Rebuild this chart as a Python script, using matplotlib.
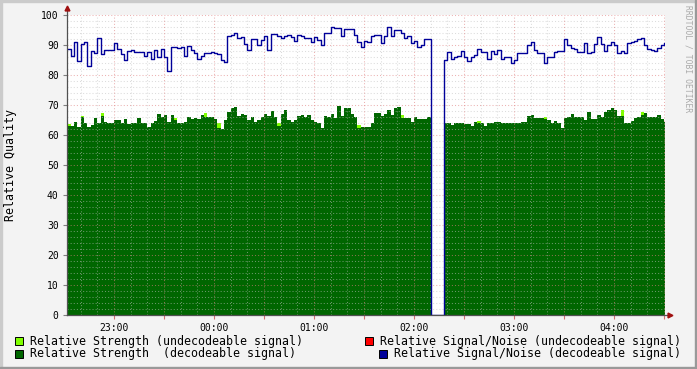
import numpy as np
import matplotlib.pyplot as plt
from matplotlib.lines import Line2D
from matplotlib.patches import Rectangle

plt.rcParams['font.family'] = 'DejaVu Sans Mono'

# time axis: minutes after 22:00, one sample every 2 minutes starting 22:32
t_start = 32
t_step = 2

# relative signal/noise (decodeable), 0 = outage
snr_dec = [
    88.6, 86.5, 91.1, 84.6, 90.5, 91.1, 83, 88, 87.2, 92.2, 87, 88.5, 88.3, 88.3, 90.8,
    88.6, 87, 85, 88.1, 88.3, 87.8, 87.8, 87.8, 86.3, 87.8, 85.2, 88.5, 86, 88.7, 86,
    81.3, 89.4, 89.2, 89, 89.4, 86.5, 89.7, 88.3, 87.2, 85.5, 86.3, 87.4, 87.5, 87.8, 87.2,
    87, 85, 84.4, 93, 93.3, 94, 92.2, 92.8, 90.3, 88.5, 91.9, 91.9, 90, 91.7, 93,
    88.5, 93.6, 93.6, 93, 92.2, 93, 93.3, 92.8, 91.5, 93.5, 93, 92.2, 92.2, 91.1, 92.8,
    91.7, 90, 93.9, 93.9, 95.9, 95.6, 95.6, 93, 95.5, 95.5, 95.2, 93.3, 91, 89.4, 91.5,
    91.1, 93, 93.5, 93.5, 90.8, 93, 95.9, 93, 95, 95, 94, 92.5, 93, 90.8, 91.5,
    89.2, 90, 91.9, 91.9, 0, 0, 0, 0, 85, 87.8, 85.5, 86, 86.5, 88.1, 86,
    84.8, 86, 86.7, 88.6, 87.8, 87.8, 85.5, 87.9, 87, 88.3, 85.5, 85.9, 85.9, 84.1, 85,
    87.2, 87.4, 87.2, 90, 91, 88.5, 87.2, 87.4, 84, 85.9, 85.9, 87.8, 88.1, 88.1, 91.9,
    90, 89, 88.6, 87.8, 87.8, 90.8, 87.2, 87.8, 90.3, 92.8, 90.5, 88.1, 90, 91.1, 90,
    87.2, 88, 87.5, 90.8, 91.1, 91.5, 91.9, 92.5, 90, 88.6, 88.3, 88.1, 89, 90, 90.6,
]

# relative strength (decodeable)
strength_dec = [
    63, 63, 64.4, 62.6, 65.9, 63.9, 62.6, 63.2, 65.6, 63.9, 66.5, 64.5, 63.9, 63.9, 65,
    65, 63.9, 65.2, 63.8, 63.9, 63.9, 65.6, 64, 64, 62.6, 64, 64.8, 67, 66, 66.6,
    64.5, 66.6, 65, 64.1, 63.9, 64.4, 66, 65.5, 65.6, 65.2, 66.8, 65.9, 65.9, 65.9, 65.2,
    62.5, 62, 65, 67.8, 68.9, 69.5, 66.3, 67, 66.6, 65, 65.9, 64.4, 65, 66, 67.1,
    66.5, 68, 66, 63, 67.1, 68.5, 65, 64.4, 65, 66.3, 66.6, 66, 66.6, 65, 64.4,
    64, 62.5, 66.3, 65.9, 67, 65.8, 69.8, 66.3, 68.9, 68.9, 67.1, 65.9, 62.5, 62.8, 62.8,
    62.8, 63.9, 67.3, 67.4, 66.5, 67.1, 68.5, 66.6, 68.9, 69.5, 65.6, 65.6, 65.7, 64.4, 65.9,
    65.2, 65.2, 65.2, 66, 0, 0, 0, 0, 63.9, 63.9, 63.3, 63.9, 63.9, 63.9, 63.6,
    63.6, 63, 64.4, 63.9, 63.9, 63, 63.9, 63.9, 64.5, 64.4, 63.9, 63.9, 63.9, 63.9, 63.9,
    63.9, 64.4, 64.4, 66.3, 66.6, 65.8, 65.6, 65.6, 65.3, 65, 64.1, 64.8, 64.1, 62.2, 65.6,
    65.9, 67, 65.9, 65.9, 65.9, 65, 67.8, 65.2, 65.2, 66.6, 66, 67.8, 68.3, 68.9, 68.5,
    66.3, 66.3, 63.9, 63.9, 64.8, 65.6, 66, 66.6, 67.4, 65.9, 65.9, 65.9, 66.6, 65.2, 64.4,
]

# relative strength (undecodeable) - only shows where it pokes above the decodeable one
undec_idx = [0, 4, 10, 32, 41, 45, 63, 87, 100, 123, 143, 166, 172]
undec_val = [63.8, 66.5, 67.2, 65.8, 67.3, 63.9, 64, 63.3, 66.7, 64.6, 66, 68.3, 67.6]

hour_ticks = [60, 120, 180, 240, 300, 360]
hour_labels = ['23:00', '00:00', '01:00', '02:00', '03:00', '04:00']

W, H = 697, 369
fig = plt.figure(figsize=(W / 100, H / 100), dpi=100, facecolor='#F3F3F3')


def fx(px):
    return px / W


def fy(py):
    return 1 - py / H


ax = fig.add_axes([fx(67), fy(315), fx(665) - fx(67), fy(15) - fy(315)])
ax.set_facecolor('white')

n = len(snr_dec)
edges = t_start + t_step * np.arange(n + 1)
strength_undec = np.zeros(n)
strength_undec[undec_idx] = undec_val

ax.stairs(strength_undec, edges, fill=True, color='#80FF00', zorder=1)
ax.stairs(strength_dec, edges, fill=True, color='#006600', zorder=2)
ax.step(edges, np.append(snr_dec, snr_dec[-1]), where='post', color='#000099',
        lw=1.0, zorder=4)

ax.set_xlim(31.8, 390.6)
ax.set_ylim(0, 100)

# rrdtool style grid, drawn over the data
dots = (0, (1, 2))
minor_x = [m for m in range(40, 391, 10) if m % 30]
major_x = list(range(60, 391, 30))
minor_y = [v for v in range(2, 100, 2) if v % 10]
major_y = list(range(10, 101, 10))
ax.vlines(minor_x, 0, 100, colors='#C0C0C0', linestyles=dots, lw=0.75, alpha=0.55, zorder=3)
ax.hlines(minor_y, 31.8, 390.6, colors='#C0C0C0', linestyles=dots, lw=0.75, alpha=0.55, zorder=3)
ax.vlines(major_x, 0, 100, colors='#E08080', linestyles=dots, lw=0.75, alpha=0.6, zorder=3)
ax.hlines(major_y, 31.8, 390.6, colors='#E08080', linestyles=dots, lw=0.75, alpha=0.6, zorder=3)

for s in ax.spines.values():
    s.set_visible(False)

ax.set_xticks(hour_ticks)
ax.set_xticklabels(hour_labels)
ax.set_xticks(major_x, minor=True)
ax.set_yticks(range(0, 101, 10))
ax.tick_params(axis='x', which='both', length=3, color='#D07070', width=0.8,
               labelsize=7, pad=3)
ax.tick_params(axis='y', length=3, color='#808080', width=0.8, labelsize=7, pad=3)

# axis lines with red arrows
fig.add_artist(Line2D([fx(67), fx(67)], [fy(315), fy(8)], color='#505050', lw=0.9))
fig.add_artist(Line2D([fx(67), fx(670)], [fy(315), fy(315)], color='#505050', lw=0.9))
fig.add_artist(Line2D([fx(67)], [fy(8)], marker='^', color='#A01010', markersize=3.5, lw=0))
fig.add_artist(Line2D([fx(670)], [fy(315)], marker='>', color='#A01010', markersize=3.5, lw=0))

fig.text(fx(11), fy(165), 'Relative Quality', rotation=90, ha='center', va='center',
         fontsize=8.4)
fig.text(fx(688), fy(5), 'RRDTOOL / TOBI OETIKER', rotation=270, ha='center', va='top',
         fontsize=5.8, color='#AAAAAA')

# legend
legend = [
    (15, 341, '#80FF00', 'Relative Strength (undecodeable signal)'),
    (15, 354, '#006600', 'Relative Strength  (decodeable signal)'),
    (365, 341, '#FF0000', 'Relative Signal/Noise (undecodeable signal)'),
    (379, 354, '#000099', 'Relative Signal/Noise (decodeable signal)'),
]
for x0, yc, col, label in legend:
    fig.add_artist(Rectangle((fx(x0), fy(yc + 4)), 8 / W, 8 / H, facecolor=col,
                             edgecolor='black', lw=0.7, transform=fig.transFigure))
    fig.text(fx(x0 + 15), fy(yc), label, ha='left', va='center', fontsize=8.4)

# shaded frame
fig.add_artist(Rectangle((0, fy(2)), 1, 2 / H, color='#CBCBCB', transform=fig.transFigure))
fig.add_artist(Rectangle((0, 0), 2 / W, 1, color='#CBCBCB', transform=fig.transFigure))
fig.add_artist(Rectangle((0, 0), 1, 2 / H, color='#999999', transform=fig.transFigure))
fig.add_artist(Rectangle((1 - 2 / W, 0), 2 / W, 1, color='#999999', transform=fig.transFigure))

fig.savefig('out.png', dpi=100, facecolor=fig.get_facecolor())
